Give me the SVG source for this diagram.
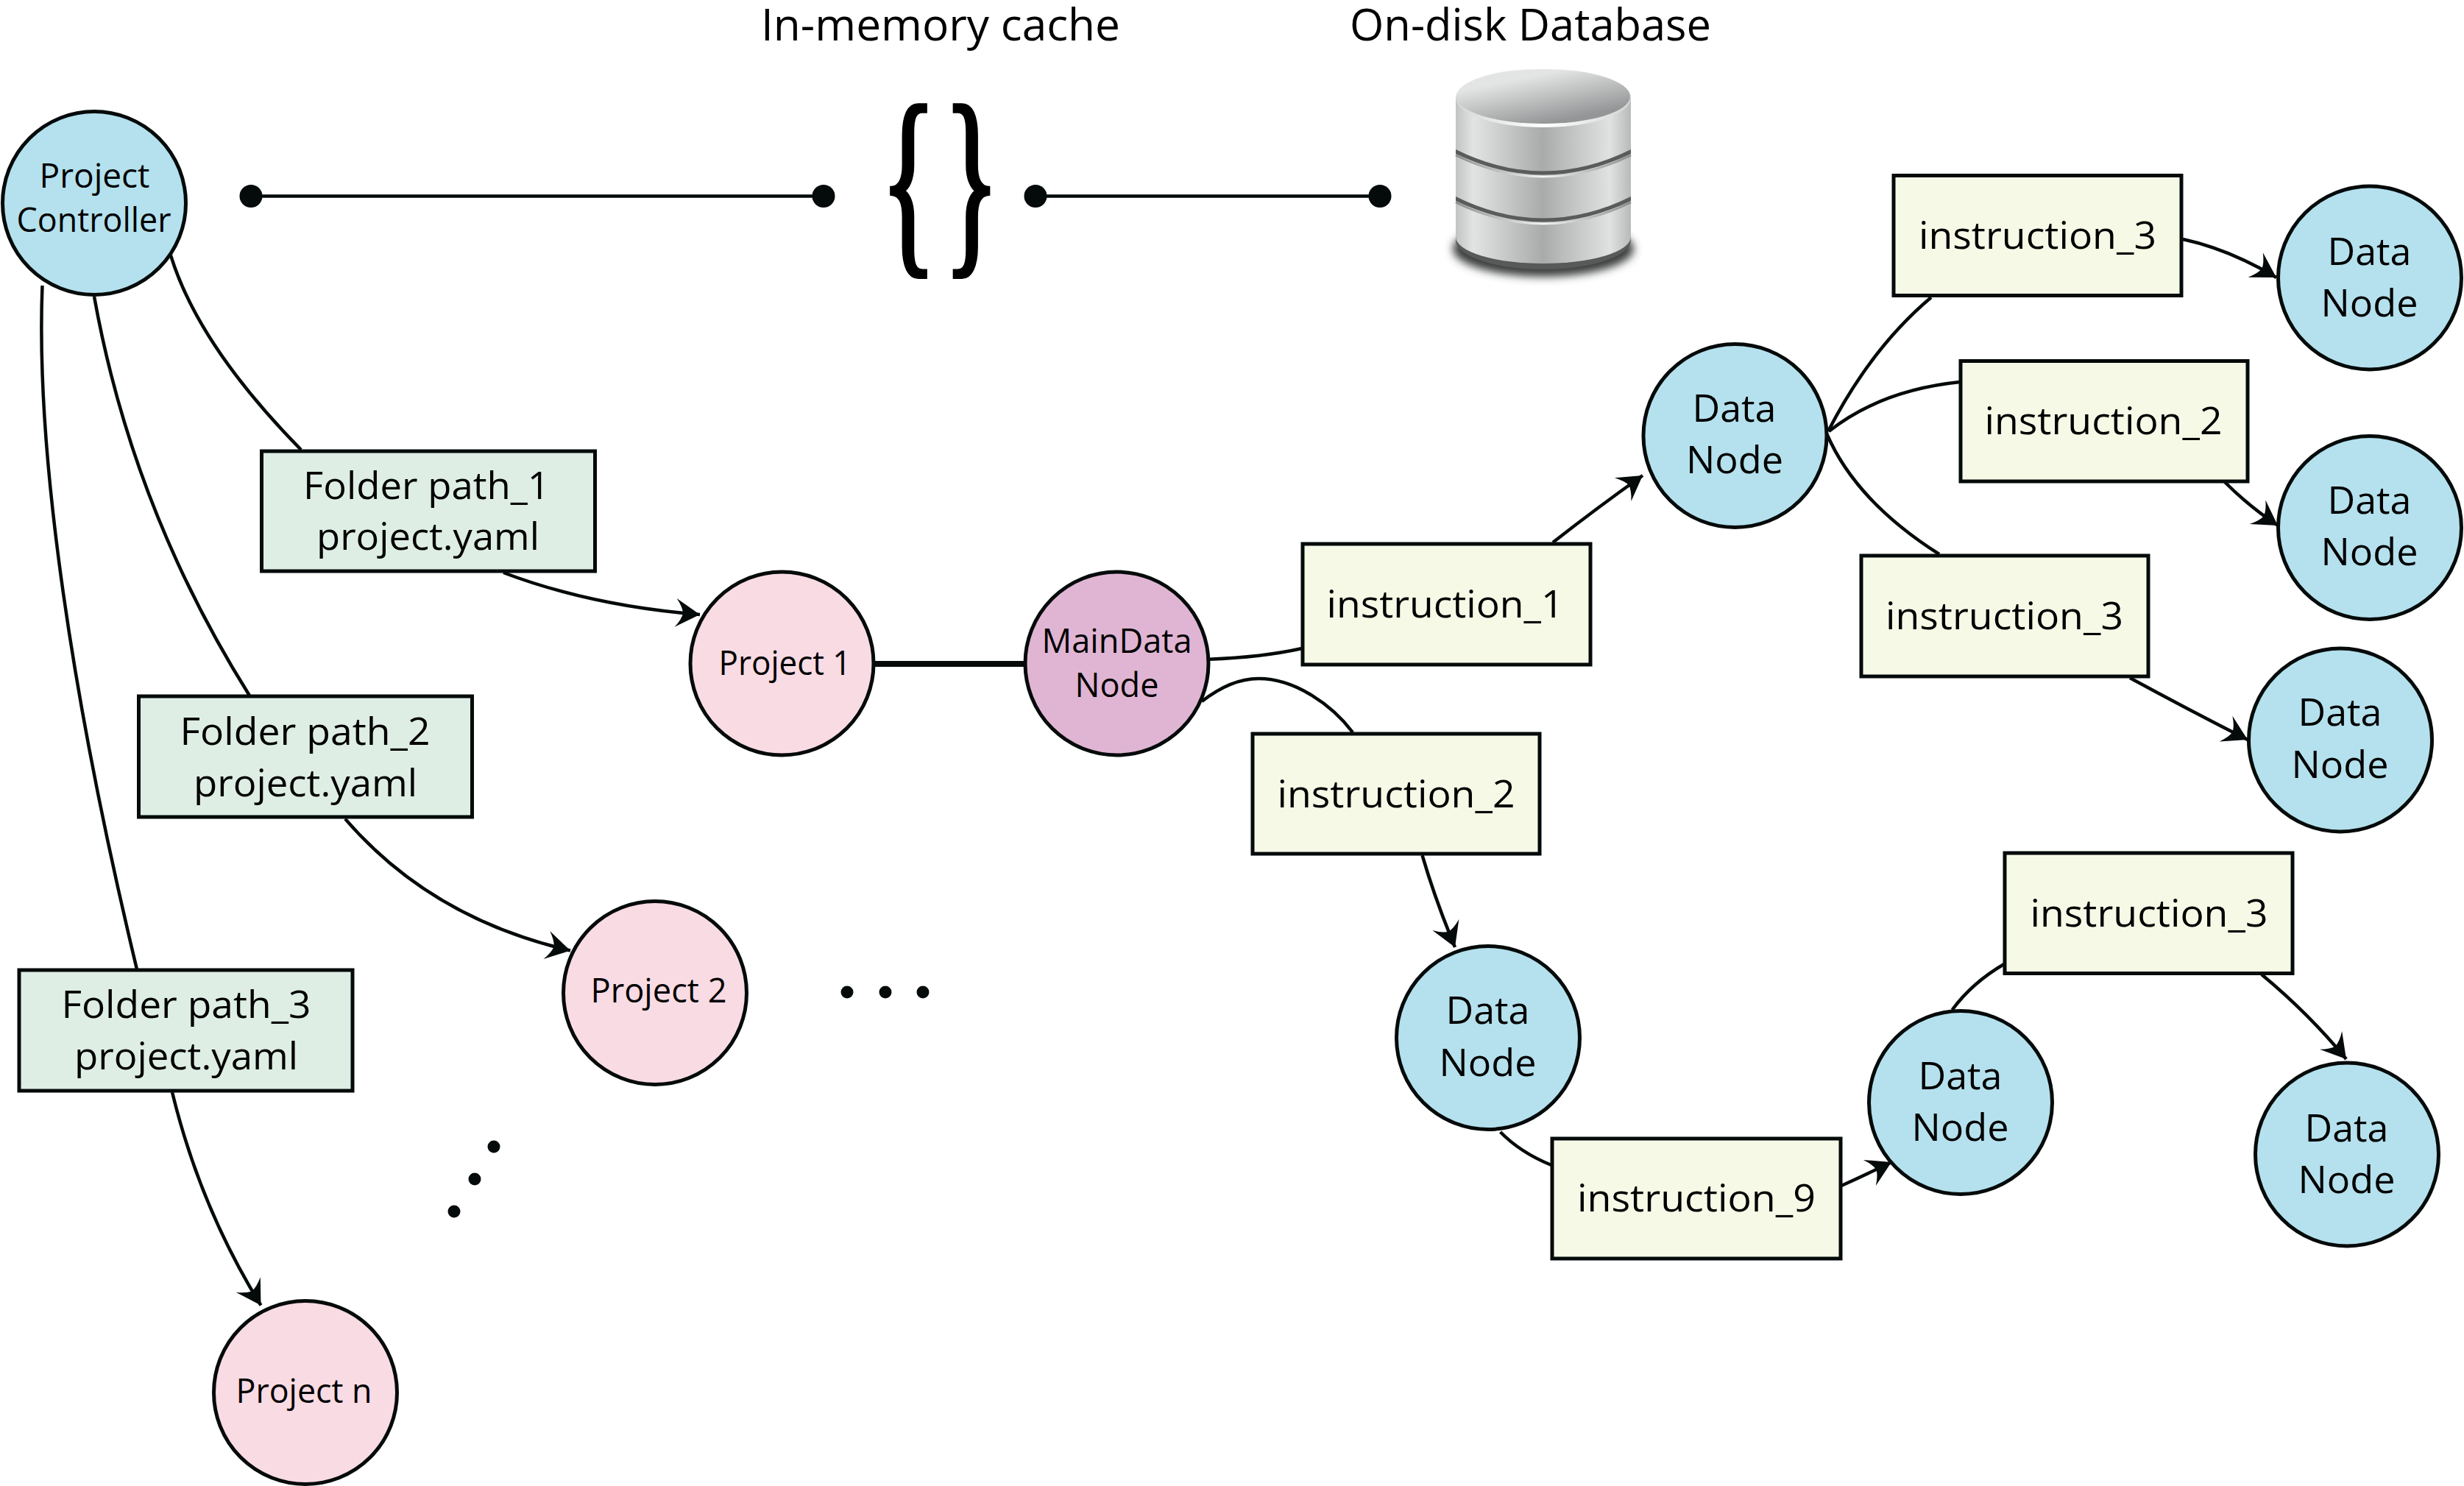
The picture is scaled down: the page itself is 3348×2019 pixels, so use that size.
<svg xmlns="http://www.w3.org/2000/svg" width="3348" height="2019" viewBox="0 0 3348 2019">
<style>
text{font-family:"Open Sans","Noto Sans","Liberation Sans",sans-serif;fill:#000}
.t60{font-size:60px}.t52{font-size:52px}.t46{font-size:46px}
.c{fill:none;stroke:#050a0a;stroke-width:4.5}
.a{marker-end:url(#arrow)}
.n{stroke:#050a0a;stroke-width:5}
.blue{fill:#b4e1ed}.pink{fill:#f9dbe4}.purple{fill:#e0b5d3}.green{fill:#deeee5}.yellow{fill:#f6f9e6}
.dot{fill:#050a0a}
.brace{font-family:"Liberation Serif",serif;font-size:280px;text-anchor:middle;stroke:#000;stroke-width:7}
</style>
<defs>
<marker id="arrow" viewBox="-34 -20 35 40" refX="0" refY="0" markerWidth="35" markerHeight="40" markerUnits="userSpaceOnUse" orient="auto"><path d="M0 0L-33-19.5Q-24-8-23 0Q-24 8-33 19.5Z" fill="#050a0a"/></marker>
<linearGradient id="body" gradientUnits="userSpaceOnUse" x1="1978" y1="0" x2="2216" y2="0"><stop offset="0" stop-color="#c2c3c3"/><stop offset=".1" stop-color="#e2e4e3"/><stop offset=".5" stop-color="#a9aaaa"/><stop offset=".6" stop-color="#b9baba"/><stop offset=".88" stop-color="#e0e2e1"/><stop offset="1" stop-color="#b8b9b9"/></linearGradient>
<linearGradient id="top" x1=".2" y1="0" x2=".85" y2="1"><stop offset=".2" stop-color="#e3e5e4"/><stop offset=".85" stop-color="#949596"/></linearGradient>
<linearGradient id="rim" gradientUnits="userSpaceOnUse" x1="1978" y1="0" x2="2216" y2="0"><stop offset="0" stop-color="#d4d5d5"/><stop offset=".5" stop-color="#fff"/><stop offset="1" stop-color="#d4d5d5"/></linearGradient>
<linearGradient id="rim2" gradientUnits="userSpaceOnUse" x1="1978" y1="0" x2="2216" y2="0"><stop offset="0" stop-color="#8a8b8b"/><stop offset=".5" stop-color="#f4f4f4"/><stop offset="1" stop-color="#8a8b8b"/></linearGradient>
<filter id="blur" x="-20%" y="-50%" width="140%" height="200%"><feGaussianBlur stdDeviation="6"/></filter>
</defs>

<g id="connectors">
<path class="c" d="M341 266.500H1118"/>
<path class="c" d="M1407 266.500H1875"/>
<path class="c" d="M1187 902H1395" style="stroke-width:8"/>
<path class="c" d="M232 347Q269.500 469 409 611"/>
<path class="c" d="M128 403Q180 692 339 945"/>
<path class="c" d="M57.500 388C48 620 100 960 186 1317"/>
<path class="c a" d="M684 778Q804.500 823.500 951 835"/>
<path class="c a" d="M469 1112.600Q586 1248 775 1291.500"/>
<path class="c a" d="M234 1484Q272 1640 354.500 1773.500"/>
<path class="c" d="M1643 895.700Q1715 893 1769 881"/>
<path class="c" d="M1633 953C1660 932 1685 922 1710 922C1760 922 1810 958 1838 995"/>
<path class="c a" d="M2110 737Q2170 690 2232 646"/>
<path class="c" d="M2484 586Q2542 473 2624 404"/>
<path class="c" d="M2485 586Q2556 530 2663 519"/>
<path class="c" d="M2482 589Q2521.500 681 2635 753"/>
<path class="c a" d="M2966 325Q3030 339 3093 377"/>
<path class="c a" d="M3023 655Q3056 688 3095 714"/>
<path class="c a" d="M2894 921Q2975 965 3054 1005"/>
<path class="c a" d="M1932.500 1162Q1950 1222 1977 1287"/>
<path class="c" d="M2038.600 1538Q2066 1566 2108 1583"/>
<path class="c a" d="M2502 1611Q2535 1596 2570 1579"/>
<path class="c" d="M2652.600 1372Q2680 1335 2723 1310"/>
<path class="c a" d="M3073 1324Q3138 1378 3188 1439"/>
</g>

<g id="endpoints">
<circle class="dot" cx="341" cy="266.500" r="15.500"/>
<circle class="dot" cx="1119" cy="266.500" r="15.500"/>
<circle class="dot" cx="1407" cy="266.500" r="15.500"/>
<circle class="dot" cx="1875" cy="266.500" r="15.500"/>
</g>

<g id="title-cache"><text class="t60" x="1034" y="55" textLength="488" lengthAdjust="spacingAndGlyphs">In-memory cache</text></g>
<g id="title-db"><text class="t60" x="1834" y="55" textLength="491" lengthAdjust="spacingAndGlyphs">On-disk Database</text></g>

<g id="cache-braces">
<text class="brace" transform="translate(1234.500 338) scale(.56 1)">{</text>
<text class="brace" transform="translate(1320 338) scale(.56 1)">}</text>
</g>

<g id="database">
<ellipse cx="2097" cy="338" rx="123" ry="38" fill="#3d4141" filter="url(#blur)"/>
<path d="M1978 326A119 40 0 0 0 2216 326V300H1978Z" fill="#585a5a"/>
<path d="M1978 133H2216V322A119 36 0 0 1 1978 322Z" fill="url(#body)"/>
<path d="M1978 203Q2097 262 2216 203V209Q2097 266 1978 209Z" fill="#5a5c5c"/>
<path d="M1978 211Q2097 269 2216 211" fill="none" stroke="url(#rim2)" stroke-width="3"/>
<path d="M1978 267Q2097 326 2216 267V273Q2097 330 1978 273Z" fill="#5a5c5c"/>
<path d="M1978 275Q2097 333 2216 275" fill="none" stroke="url(#rim2)" stroke-width="3"/>
<ellipse cx="2097" cy="133" rx="119" ry="40" fill="url(#rim)"/>
<ellipse cx="2097" cy="131" rx="118" ry="37" fill="url(#top)"/>
</g>

<g id="project-controller">
<circle class="n blue" cx="128" cy="276" r="124.500"/>
<text class="t46" x="53.500" y="255" textLength="150" lengthAdjust="spacingAndGlyphs">Project</text>
<text class="t46" x="22.500" y="315" textLength="210" lengthAdjust="spacingAndGlyphs">Controller</text>
</g>

<g id="folder-1">
<rect class="n green" x="355.500" y="613" width="453" height="163"/>
<text class="t52" x="412" y="677.500" textLength="335" lengthAdjust="spacingAndGlyphs">Folder path_1</text>
<text class="t52" x="430" y="747" textLength="303" lengthAdjust="spacingAndGlyphs">project.yaml</text>
</g>
<g id="folder-2">
<rect class="n green" x="188.500" y="946" width="453" height="164"/>
<text class="t52" x="244.500" y="1012" textLength="340" lengthAdjust="spacingAndGlyphs">Folder path_2</text>
<text class="t52" x="263" y="1081.500" textLength="304" lengthAdjust="spacingAndGlyphs">project.yaml</text>
</g>
<g id="folder-3">
<rect class="n green" x="26" y="1318" width="453" height="164"/>
<text class="t52" x="83.500" y="1383" textLength="339" lengthAdjust="spacingAndGlyphs">Folder path_3</text>
<text class="t52" x="101" y="1453" textLength="304" lengthAdjust="spacingAndGlyphs">project.yaml</text>
</g>

<g id="project-1">
<circle class="n pink" cx="1062.500" cy="901.500" r="124.500"/>
<text class="t46" x="976.500" y="917" textLength="180" lengthAdjust="spacingAndGlyphs">Project 1</text>
</g>
<g id="project-2">
<circle class="n pink" cx="890" cy="1349" r="124.500"/>
<text class="t46" x="802.500" y="1362" textLength="185" lengthAdjust="spacingAndGlyphs">Project 2</text>
</g>
<g id="project-n">
<circle class="n pink" cx="415" cy="1892" r="124.500"/>
<text class="t46" x="320.500" y="1906" textLength="185" lengthAdjust="spacingAndGlyphs">Project n</text>
</g>

<g id="ellipsis-h">
<circle class="dot" cx="1151" cy="1348" r="8.500"/><circle class="dot" cx="1203" cy="1348" r="8.500"/><circle class="dot" cx="1254" cy="1348" r="8.500"/>
</g>
<g id="ellipsis-d">
<circle class="dot" cx="671" cy="1558" r="8.500"/><circle class="dot" cx="645" cy="1602" r="8.500"/><circle class="dot" cx="617" cy="1646" r="8.500"/>
</g>

<g id="main-data-node">
<circle class="n purple" cx="1517.500" cy="901.500" r="124.500"/>
<text class="t46" x="1415.500" y="887" textLength="204" lengthAdjust="spacingAndGlyphs">MainData</text>
<text class="t46" x="1460.500" y="947" textLength="114" lengthAdjust="spacingAndGlyphs">Node</text>
</g>

<g id="instruction-1"><rect class="n yellow" x="1770" y="739" width="391" height="164"/><text class="t52" x="1802.500" y="839" textLength="322" lengthAdjust="spacingAndGlyphs">instruction_1</text></g>
<g id="instruction-2-lower"><rect class="n yellow" x="1702" y="997" width="390" height="163"/><text class="t52" x="1735.500" y="1097" textLength="323" lengthAdjust="spacingAndGlyphs">instruction_2</text></g>
<g id="instruction-3-top"><rect class="n yellow" x="2573" y="238.500" width="391" height="163"/><text class="t52" x="2607" y="338" textLength="323" lengthAdjust="spacingAndGlyphs">instruction_3</text></g>
<g id="instruction-2-top"><rect class="n yellow" x="2664" y="490.500" width="390" height="163.500"/><text class="t52" x="2696.500" y="590" textLength="323" lengthAdjust="spacingAndGlyphs">instruction_2</text></g>
<g id="instruction-3-mid"><rect class="n yellow" x="2529" y="755" width="390" height="164"/><text class="t52" x="2562" y="855" textLength="323" lengthAdjust="spacingAndGlyphs">instruction_3</text></g>
<g id="instruction-3-lower"><rect class="n yellow" x="2724" y="1159" width="391" height="163.500"/><text class="t52" x="2758.500" y="1259" textLength="323" lengthAdjust="spacingAndGlyphs">instruction_3</text></g>
<g id="instruction-9"><rect class="n yellow" x="2109" y="1547" width="392" height="163"/><text class="t52" x="2143" y="1646" textLength="324" lengthAdjust="spacingAndGlyphs">instruction_9</text></g>

<g id="data-node-center"><circle class="n blue" cx="2357.500" cy="592" r="124.500"/><text class="t52" x="2299.500" y="572.500" textLength="114" lengthAdjust="spacingAndGlyphs">Data</text><text class="t52" x="2291" y="642.500" textLength="132" lengthAdjust="spacingAndGlyphs">Node</text></g>
<g id="data-node-r1"><circle class="n blue" cx="3220" cy="377.500" r="124.500"/><text class="t52" x="3162.500" y="360" textLength="114" lengthAdjust="spacingAndGlyphs">Data</text><text class="t52" x="3153.500" y="430" textLength="132" lengthAdjust="spacingAndGlyphs">Node</text></g>
<g id="data-node-r2"><circle class="n blue" cx="3220" cy="717" r="124.500"/><text class="t52" x="3162.500" y="697.500" textLength="114" lengthAdjust="spacingAndGlyphs">Data</text><text class="t52" x="3153.500" y="767.500" textLength="132" lengthAdjust="spacingAndGlyphs">Node</text></g>
<g id="data-node-r3"><circle class="n blue" cx="3180" cy="1005.500" r="124.500"/><text class="t52" x="3122.500" y="986" textLength="114" lengthAdjust="spacingAndGlyphs">Data</text><text class="t52" x="3113.500" y="1057" textLength="132" lengthAdjust="spacingAndGlyphs">Node</text></g>
<g id="data-node-l1"><circle class="n blue" cx="2022" cy="1410" r="124.500"/><text class="t52" x="1964.500" y="1391" textLength="114" lengthAdjust="spacingAndGlyphs">Data</text><text class="t52" x="1955.500" y="1462" textLength="132" lengthAdjust="spacingAndGlyphs">Node</text></g>
<g id="data-node-l2"><circle class="n blue" cx="2664" cy="1498" r="124.500"/><text class="t52" x="2606.500" y="1480" textLength="114" lengthAdjust="spacingAndGlyphs">Data</text><text class="t52" x="2597.500" y="1549.500" textLength="132" lengthAdjust="spacingAndGlyphs">Node</text></g>
<g id="data-node-l3"><circle class="n blue" cx="3189" cy="1568.500" r="124.500"/><text class="t52" x="3131.500" y="1550.500" textLength="114" lengthAdjust="spacingAndGlyphs">Data</text><text class="t52" x="3122.500" y="1621" textLength="132" lengthAdjust="spacingAndGlyphs">Node</text></g>
</svg>
